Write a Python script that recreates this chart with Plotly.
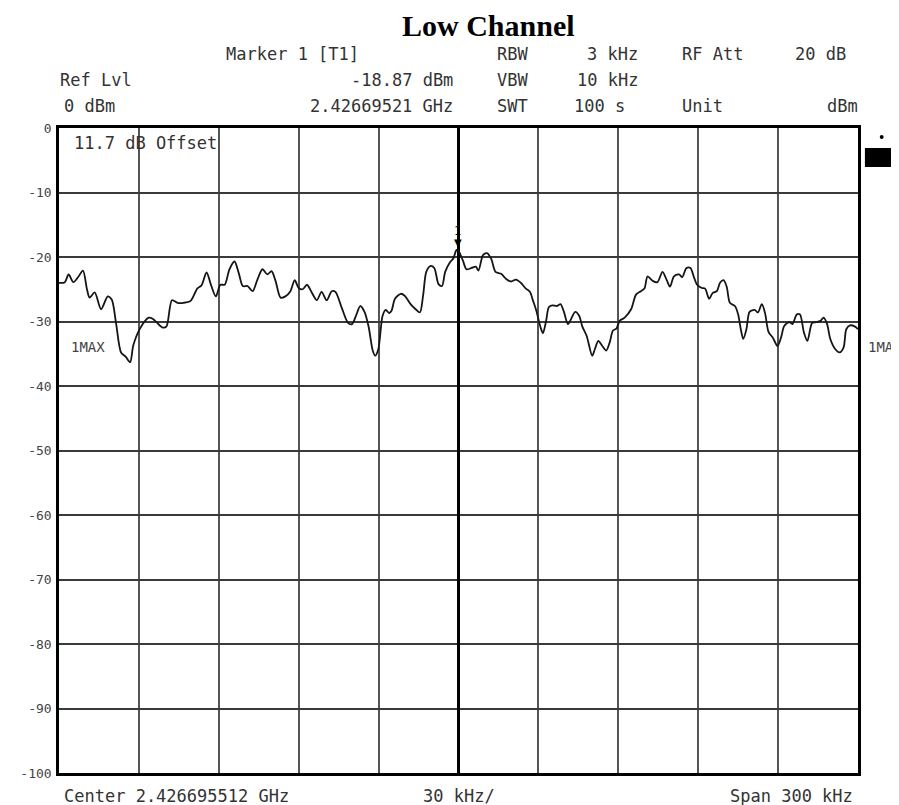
import plotly.graph_objects as go

# spectrum trace, frequency offset from center (kHz) and level (dBm)
freq_khz = [
    -150, -147.8, -146.4, -144.6, -142.8, -141.0, -139.5, -138.5, -136.6, -134.2, -131.7, -130.2,
    -128.6, -126.7, -124.9, -123.3, -122.1, -119.6, -116.3, -114.7, -111.3, -109.7, -107.6, -105.5,
    -103.3, -100.6, -98.1, -96.5, -94.6, -92.8, -91.1, -89.4,
    -87.8, -86.0, -84.1, -82.5, -81.0, -79.2, -77.3, -75.5, -73.6, -71.8, -70.2, -68.7, -66.8, -65.0,
    -63.1, -61.5, -60.0, -58.5, -56.9, -55.1, -53.2, -51.4, -49.5, -47.6, -46.2, -43.9, -41.5, -40.0,
    -38.4, -36.9, -35.3, -33.8, -32.2, -31.3, -30.1,
    -28.5, -27.3, -26.0, -25.1, -23.9, -21.7, -20.2, -18.0, -16.1, -14.5, -13.3, -12.1, -10.6, -9.1,
    -7.5, -6.2, -5.0, -3.2, -1.9, -0.9, -0.3, 1.6, 3.0, 4.9, 6.5, 7.5, 9.2, 10.7, 12.3, 13.9, 16.0,
    17.9, 19.7, 21.6, 23.4, 25.3, 26.8, 28.0, 29.2,
    30.8, 31.7, 32.9, 33.9, 35.2, 37.0, 38.3, 39.5, 41.1, 42.3, 43.8, 45.3, 46.5, 48.1, 50.2, 51.2,
    52.5, 54.0, 55.5, 56.8, 58.0, 59.3, 60.5, 62.4, 64.8, 66.7, 68.5, 69.8, 71.0, 72.9, 74.7, 76.6,
    78.2, 79.4, 80.9, 82.8, 84.0, 85.6, 87.1, 88.3, 89.6,
    91.4, 92.6, 94.1, 95.4, 97.0, 98.2, 99.5, 100.7, 101.9, 103.8, 105.0, 106.0, 106.9, 108.1, 109.3,
    111.2, 112.4, 113.9, 115.1, 116.4, 118.0, 119.8, 121.1, 122.3, 124.2, 125.4, 127.0, 128.2, 129.7,
    131.0, 132.8, 134.4, 135.9, 137.1, 138.4, 139.6, 141.5, 143.1, 144.6, 145.6, 147.0, 148.9, 150,
]
level_dbm = [
    -24.0, -23.9, -22.7, -23.9, -23.1, -22.1, -25.0, -26.3, -25.5, -28.1, -26.1, -26.6,
    -30.2, -34.8, -35.5, -36.3, -33.7, -31.1, -29.4, -29.6, -30.9, -30.8, -26.7, -27.1,
    -27.1, -26.8, -24.9, -24.4, -22.4, -24.5, -26.1, -24.3,
    -24.3, -21.9, -20.7, -22.5, -24.5, -24.5, -25.3, -23.5, -21.9, -22.7, -22.2, -23.7, -26.3, -26.1,
    -25.3, -23.6, -24.8, -25.0, -24.3, -25.5, -26.7, -25.4, -26.7, -25.3, -25.4, -27.8, -30.2, -30.4,
    -29.0, -27.6, -28.5, -30.7, -34.5, -35.3, -34.3,
    -29.1, -28.2, -28.7, -28.3, -26.5, -25.7, -26.0, -27.3, -28.1, -28.6, -26.0, -22.3, -21.4, -21.7,
    -24.2, -24.5, -22.3, -20.8, -20.2, -19.0, -18.87, -20.5, -21.9, -21.7, -21.5, -22.1, -19.7, -19.4,
    -20.3, -22.3, -22.6, -23.4, -23.8, -23.5, -24.0, -24.9, -25.4, -26.8, -28.3,
    -30.9, -31.8, -29.9, -27.8, -27.5, -27.6, -27.3, -28.4, -30.4, -29.6, -28.5, -29.1, -30.8, -32.2,
    -35.3, -34.3, -33.0, -33.8, -34.5, -33.2, -31.4, -31.1, -29.9, -29.4, -28.1, -25.8, -25.3, -24.9,
    -23.0, -23.7, -23.9, -22.3, -23.6, -24.6, -23.0, -22.7, -23.1, -21.7, -21.7, -23.0, -24.3,
    -24.8, -24.9, -26.5, -25.6, -25.3, -24.0, -23.6, -24.6, -27.1, -27.6, -28.9, -31.2, -32.7, -31.2,
    -28.5, -28.2, -28.6, -27.3, -28.7, -31.6, -32.5, -33.8, -32.5, -30.7, -30.1, -30.4, -28.9, -28.9,
    -31.7, -33.0, -30.2, -30.1, -29.9, -29.4, -30.4, -32.7, -34.3, -34.8, -34.0, -31.2, -30.6, -30.8, -31.2,
]

y_ticks = [0, -10, -20, -30, -40, -50, -60, -70, -80, -90, -100]
x_grid = [-150, -120, -90, -60, -30, 0, 30, 60, 90, 120, 150]

center_ghz = 2.426695512
marker_ghz = 2.42669521
marker_level = -18.87
marker_offset_khz = (marker_ghz - center_ghz) * 1e6

MONO = "DejaVu Sans Mono"
TXT = "#333333"


# page coordinates (screenshot pixels) -> paper coordinates of the grid box
def px(x):
    return (x - 49) / 809


def py(y):
    return (773 - y) / 645


fig = go.Figure()

fig.add_trace(
    go.Scatter(
        x=freq_khz,
        y=level_dbm,
        mode="lines",
        line={"color": "#151515", "width": 1.8, "shape": "spline", "smoothing": 0.8},
        hoverinfo="skip",
        showlegend=False,
    )
)

annotations = [
    {"text": "<b>Low Channel</b>", "x": px(484), "y": py(25), "xanchor": "center",
     "font": {"family": "Liberation Serif", "size": 30, "color": "black"}},
    # header row 1
    {"text": "Marker 1 [T1]", "x": px(216), "y": py(54), "xanchor": "left"},
    {"text": "RBW", "x": px(490), "y": py(54), "xanchor": "left"},
    {"text": "3 kHz", "x": px(637), "y": py(54), "xanchor": "right"},
    {"text": "RF Att", "x": px(678), "y": py(54), "xanchor": "left"},
    {"text": "20 dB", "x": px(848), "y": py(54), "xanchor": "right"},
    # header row 2
    {"text": "Ref Lvl", "x": px(48), "y": py(80), "xanchor": "left"},
    {"text": f"{marker_level:.2f} dBm", "x": px(450), "y": py(80), "xanchor": "right"},
    {"text": "VBW", "x": px(490), "y": py(80), "xanchor": "left"},
    {"text": "10 kHz", "x": px(637), "y": py(80), "xanchor": "right"},
    # header row 3
    {"text": "0 dBm", "x": px(52), "y": py(106), "xanchor": "left"},
    {"text": f"{marker_ghz:.8f} GHz", "x": px(450), "y": py(106), "xanchor": "right"},
    {"text": "SWT", "x": px(490), "y": py(106), "xanchor": "left"},
    {"text": "100 s", "x": px(568), "y": py(106), "xanchor": "left"},
    {"text": "Unit", "x": px(678), "y": py(106), "xanchor": "left"},
    {"text": "dBm", "x": px(860), "y": py(106), "xanchor": "right"},
    # inside / around the grid
    {"text": "11.7 dB Offset", "x": px(62), "y": py(143), "xanchor": "left"},
    {"text": "1MAX", "x": px(59), "y": py(347), "xanchor": "left",
     "font": {"family": MONO, "size": 14, "color": "#444"}},
    {"text": "1MA", "x": px(866), "y": py(347), "xanchor": "left",
     "font": {"family": MONO, "size": 14, "color": "#444"}},
    # footer
    {"text": f"Center {center_ghz:.9f} GHz", "x": px(52), "y": py(796), "xanchor": "left"},
    {"text": "30 kHz/", "x": px(416), "y": py(796), "xanchor": "left"},
    {"text": "Span 300 kHz", "x": px(855), "y": py(796), "xanchor": "right"},
]

for a in annotations:
    a.setdefault("font", {"family": MONO, "size": 17, "color": TXT})
    a.update({"xref": "paper", "yref": "paper", "yanchor": "middle", "showarrow": False})

# marker 1 sitting on the peak
annotations.append(
    {"text": "▼", "x": marker_offset_khz, "y": marker_level, "xref": "x", "yref": "y",
     "yshift": 7, "showarrow": False, "font": {"family": "DejaVu Sans", "size": 10, "color": "black"}}
)
annotations.append(
    {"text": "1", "x": marker_offset_khz, "y": marker_level, "xref": "x", "yref": "y",
     "yshift": 19, "showarrow": False, "font": {"family": MONO, "size": 12, "color": "black"}}
)

shapes = [
    {"type": "rect", "xref": "paper", "yref": "paper", "x0": px(865), "x1": px(894),
     "y0": py(167), "y1": py(148), "fillcolor": "black", "line": {"width": 0}},
    {"type": "circle", "xref": "paper", "yref": "paper", "x0": px(880), "x1": px(884),
     "y0": py(139), "y1": py(135), "fillcolor": "black", "line": {"width": 0}},
]

# the page body adds an 8px offset, so the figure is 8px smaller than the window
fig.update_layout(
    width=891,
    height=797,
    margin={"l": 41, "r": 41, "t": 120, "b": 32},
    paper_bgcolor="white",
    plot_bgcolor="white",
    showlegend=False,
    annotations=annotations,
    shapes=shapes,
)

fig.update_xaxes(
    range=[-150, 150],
    tickvals=x_grid,
    showticklabels=False,
    ticks="",
    showgrid=True,
    gridcolor="#555555",
    gridwidth=1.5,
    zeroline=True,
    zerolinecolor="black",
    zerolinewidth=3,
    showline=True,
    linecolor="black",
    linewidth=2.5,
    mirror=True,
)
fig.update_yaxes(
    range=[-100, 0],
    tickvals=y_ticks,
    ticktext=[str(v) for v in y_ticks],
    tickfont={"family": MONO, "size": 13, "color": "#444"},
    ticks="",
    ticklabelstandoff=2,
    showgrid=True,
    gridcolor="#3a3a3a",
    gridwidth=1.5,
    zeroline=False,
    showline=True,
    linecolor="black",
    linewidth=2.5,
    mirror=True,
)

fig.write_html("out.html")
